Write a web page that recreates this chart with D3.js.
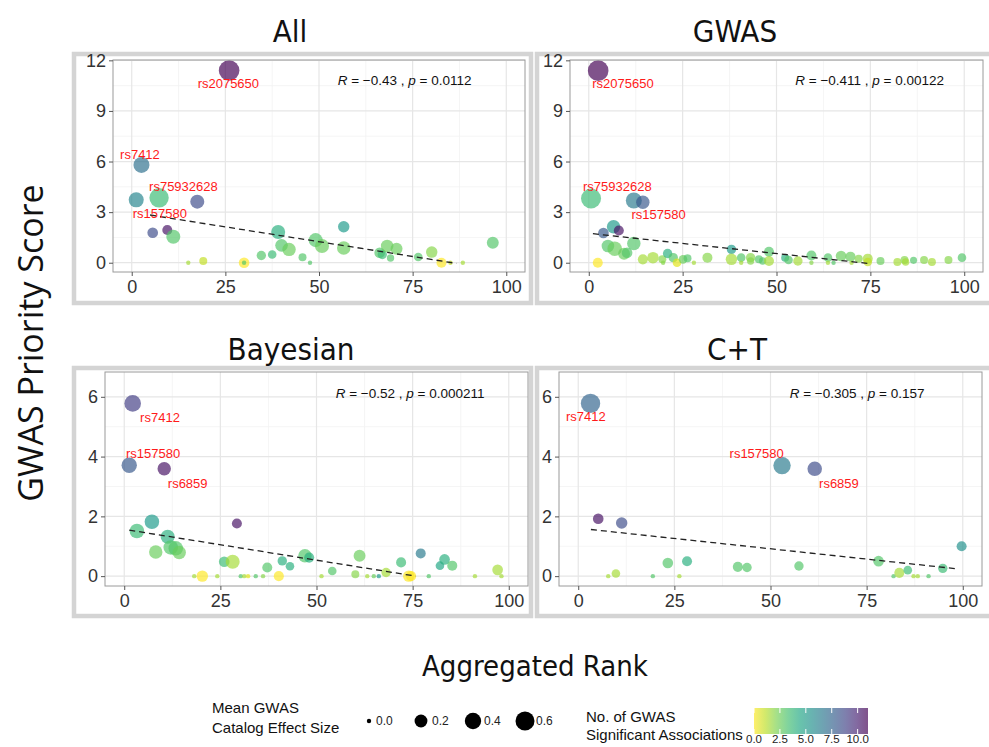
<!DOCTYPE html>
<html>
<head>
<meta charset="utf-8">
<script src="https://cdn.jsdelivr.net/npm/d3@7"></script>
<style>
  body { margin: 0; background: #fff; }
  svg { display: block; }
</style>
</head>
<body>
<div id="chart"></div>
<script>
// tick labels
let xTicks = [0, 25, 50, 75, 100]
let xMinor = [12.5, 37.5, 62.5, 87.5]
let topYTicks = [0, 3, 6, 9, 12]
let topYMinor = [1.5, 4.5, 7.5, 10.5]
let bottomYTicks = [0, 2, 4, 6]
let bottomYMinor = [1, 3, 5]

let panelTitles = ['All', 'GWAS', 'Bayesian', 'C+T']

// [aggregated rank, GWAS priority score, mean effect size, no. of associations]
let allPoints = [
  [26.0, 11.4, 0.74, 11], [2.6, 5.8, 0.38, 7], [1.2, 3.73, 0.32, 6], [7.3, 3.85, 0.63, 3.5],
  [17.5, 3.62, 0.26, 8.5], [5.6, 1.78, 0.11, 8.5], [9.5, 1.94, 0.09, 10.5], [11.1, 1.54, 0.26, 3],
  [15.1, 0, 0, 1.5], [19.1, 0.1, 0.036, 1], [30, 0, 0.11, 0], [30, 0, 0, 3],
  [34.6, 0.43, 0.07, 3], [37.5, 0.49, 0.05, 3.5], [39.1, 1.82, 0.26, 4], [40, 1.03, 0.19, 3],
  [42, 0.79, 0.23, 2.5], [45.6, 0.32, 0.036, 3], [47.6, 0, 0, 3], [49.1, 1.34, 0.26, 3],
  [50.8, 0.99, 0.26, 2.5], [56.6, 2.13, 0.14, 5], [56.6, 0.87, 0.23, 2.5], [66.2, 0.59, 0.11, 3],
  [66.9, 0.49, 0.07, 3.5], [68.2, 0.99, 0.19, 2.5], [70.7, 0.83, 0.16, 2.5], [69.1, 0.28, 0.025, 3],
  [76.5, 0.34, 0.05, 3], [80.1, 0.63, 0.14, 2], [82.7, 0, 0.09, 0], [85.1, 0, 0, 1],
  [88.4, 0, 0, 1.5], [96.4, 1.18, 0.16, 3]
]
let gwasPoints = [
  [2.5, 11.39, 0.74, 11], [0.6, 3.81, 0.685, 3.5], [12.0, 3.69, 0.38, 6.5], [14.4, 3.59, 0.23, 8],
  [3.9, 1.76, 0.11, 8], [6.6, 2.13, 0.23, 5], [8.0, 1.91, 0.09, 10.5], [5.1, 0.99, 0.19, 3],
  [6.9, 0.83, 0.29, 2.5], [9.4, 0.53, 0.16, 2.5], [10.2, 0.59, 0.11, 3], [12.0, 1.14, 0.23, 3],
  [2.4, 0, 0.09, 0], [14.4, 0.2, 0.09, 1.5], [17.1, 0.3, 0.14, 1.5], [19.6, 0.2, 0.036, 2],
  [19.8, 0, 0, 2], [21.0, 0.55, 0.07, 4], [22.5, 0.3, 0.07, 3], [23.5, 0, 0.05, 0.5],
  [25.1, 0.2, 0.05, 2.5], [26.3, 0.26, 0.036, 3], [28.0, 0, 0, 1.5], [31.6, 0.3, 0.09, 2],
  [38.0, 0.79, 0.07, 5], [38.0, 0.2, 0.14, 1.5], [40.6, 0.3, 0.05, 3], [40.6, 0, 0, 1.5],
  [43.1, 0.3, 0.07, 2], [43.1, 0.1, 0.025, 2], [45.3, 0.2, 0.036, 3], [46.3, 0.1, 0.025, 3],
  [48.0, 0.65, 0.09, 3], [48.0, 0.1, 0.09, 1.5], [52.3, 0.3, 0.036, 4], [53.2, 0.16, 0.05, 3],
  [55.7, 0.1, 0.07, 1.5], [59.3, 0.43, 0.09, 3], [59.3, 0, 0, 2], [63.7, 0.3, 0.05, 3],
  [63.7, 0, 0, 1.5], [65.2, 0, 0, 3], [67.2, 0.4, 0.11, 2.5], [69.7, 0.36, 0.09, 2.5],
  [70.0, 0, 0, 1.5], [71.9, 0.24, 0.036, 2], [74.3, 0.24, 0.09, 1.5], [74.3, 0.04, 0.05, 1],
  [77.7, 0.1, 0.036, 2.5], [82.2, 0.04, 0.036, 1.5], [84.1, 0.16, 0.036, 2], [84.4, 0.04, 0.025, 1.5],
  [86.5, 0.14, 0.02, 3], [89.3, 0.16, 0.036, 2], [91.4, 0.04, 0.036, 1.5], [95.8, 0.16, 0.036, 2],
  [99.4, 0.3, 0.05, 3]
]
let bayesPoints = [
  [2.2, 5.78, 0.42, 9], [1.3, 3.71, 0.34, 8], [10.4, 3.59, 0.23, 10.5], [7.2, 1.82, 0.29, 5],
  [3.3, 1.51, 0.29, 3.5], [29.3, 1.76, 0.09, 10.5], [11.3, 1.32, 0.26, 4], [8.2, 0.81, 0.23, 2.5],
  [12.1, 0.96, 0.29, 3], [13.4, 0.93, 0.29, 3], [14.3, 0.79, 0.23, 2.5], [20.3, 0, 0.14, 0],
  [18.2, 0, 0, 1.5], [24.2, 0, 0, 1.5], [26.0, 0.48, 0.11, 3.5], [28.2, 0.48, 0.26, 1.5],
  [30.3, 0, 0, 3], [31.2, 0, 0, 1.5], [32.2, 0, 0, 0.5], [34.2, 0, 0, 3],
  [36.1, 0, 0, 2], [37.2, 0.29, 0.09, 3], [40.2, 0, 0.09, 0], [41.1, 0.51, 0.07, 4],
  [43.1, 0.33, 0.05, 4], [47.0, 0.68, 0.23, 3], [48.1, 0.62, 0.09, 4], [51.3, 0, 0, 1.5],
  [54.1, 0.17, 0.05, 3], [60.1, 0.06, 0.036, 2], [61.2, 0.68, 0.16, 2.5], [63.2, 0, 0, 1.5],
  [64.9, 0, 0, 2.5], [66.2, 0, 0, 5], [68.1, 0.12, 0.07, 1.5], [72.0, 0.46, 0.09, 3.5],
  [74.0, 0, 0.14, 0], [74.6, 0, 0.09, 0], [77.1, 0.76, 0.09, 6.5], [79.2, 0, 0, 3],
  [82.1, 0.35, 0.05, 4.5], [83.3, 0.56, 0.11, 4], [85.3, 0.35, 0.09, 3], [91.2, 0, 0, 1.5],
  [97.1, 0.21, 0.11, 1.5], [98.1, 0, 0, 1.5]
]
let ctPoints = [
  [3.2, 5.78, 0.63, 7.5], [53.0, 3.7, 0.475, 6.5], [61.5, 3.59, 0.29, 8.5], [5.2, 1.92, 0.11, 10.5],
  [11.3, 1.78, 0.14, 8.5], [7.8, 0, 0, 1.5], [9.8, 0.09, 0.05, 1.5], [19.4, 0, 0, 3],
  [23.3, 0.44, 0.11, 3], [26.3, 0, 0, 1.5], [28.3, 0.5, 0.09, 4], [41.5, 0.31, 0.09, 3],
  [43.9, 0.29, 0.07, 3], [57.4, 0.34, 0.07, 3], [78.1, 0.5, 0.11, 3], [82.0, 0, 0, 3],
  [83.5, 0.11, 0.09, 1.5], [85.7, 0.2, 0.05, 3.5], [87.2, 0, 0, 1.5], [88.3, 0, 0, 1.5],
  [91.1, 0, 0, 3], [94.8, 0.26, 0.07, 3.5], [99.7, 1.0, 0.09, 5.5]
]

// SNP labels: [name, rank, score]
let allLabels = [['rs2075650', 25.8, 10.63], ['rs7412', 2.2, 6.44], ['rs75932628', 13.8, 4.55], ['rs157580', 7.5, 2.95]]
let gwasLabels = [['rs2075650', 9.1, 10.65], ['rs75932628', 7.6, 4.55], ['rs157580', 18.6, 2.89]]
let bayesLabels = [['rs7412', 9.3, 5.32], ['rs157580', 7.5, 4.12], ['rs6859', 16.5, 3.12]]
let ctLabels = [['rs7412', 2.0, 5.34], ['rs157580', 46.4, 4.12], ['rs6859', 67.8, 3.12]]

// linear fit end points
let allFit = [[4.9, 2.83], [86.7, -0.04]]
let gwasFit = [[1.1, 1.72], [74.3, -0.04]]
let bayesFit = [[1.3, 1.54], [75.8, 0.0]]
let ctFit = [[3.3, 1.56], [98.9, 0.24]]

let corR = ['\u22120.43', '\u22120.411', '\u22120.52', '\u22120.305']
let corP = ['0.0112', '0.00122', '0.000211', '0.157']

let effectLegend = [0, 0.2, 0.4, 0.6]
let countTicks = [0, 2.5, 5, 7.5, 10]

let narrow = '"Liberation Sans Narrow", "DejaVu Sans Condensed", "Roboto Condensed", sans-serif'
let sans = '"Liberation Sans", Arial, sans-serif'

let width = 989
let height = 747

let svg = d3
  .select('#chart')
  .append('svg')
  .attr('width', width)
  .attr('height', height)

let color = d3.scaleSequential(t => d3.interpolateViridis(1 - t)).domain([0, 11])
let radius = d3.scaleSqrt().domain([0, 0.6]).range([2.2, 9.5])

let panels = [
  { points: allPoints, labels: allLabels, fit: allFit, yDomain: [-0.55, 12.02], yTicks: topYTicks, yMinor: topYMinor,
    plot: [113, 525, 60, 272], frame: [72, 52, 533, 305], titleX: 290, titleY: 42, statY: 10.8 },
  { points: gwasPoints, labels: gwasLabels, fit: gwasFit, yDomain: [-0.55, 12.02], yTicks: topYTicks, yMinor: topYMinor,
    plot: [570, 983, 60, 272], frame: [535, 52, 994, 305], titleX: 735, titleY: 42, statY: 10.8 },
  { points: bayesPoints, labels: bayesLabels, fit: bayesFit, yDomain: [-0.33, 6.83], yTicks: bottomYTicks, yMinor: bottomYMinor,
    plot: [105, 528, 372, 586], frame: [72, 366, 533, 618], titleX: 291, titleY: 360, statY: 6.12 },
  { points: ctPoints, labels: ctLabels, fit: ctFit, yDomain: [-0.33, 6.83], yTicks: bottomYTicks, yMinor: bottomYMinor,
    plot: [559, 982, 372, 586], frame: [535, 366, 994, 618], titleX: 737, titleY: 360, statY: 6.12 }
]

panels.forEach((p, i) => {
  let [left, right, top, bottom] = p.plot
  let x = d3.scaleLinear().domain([-5, 105]).range([left, right])
  let y = d3.scaleLinear().domain(p.yDomain).range([bottom, top])

  // grey frame around each facet picture
  let [fx0, fy0, fx1, fy1] = p.frame
  svg.append('rect')
    .attr('x', fx0 + 2).attr('y', fy0 + 2)
    .attr('width', fx1 - fx0 - 4).attr('height', fy1 - fy0 - 4)
    .attr('fill', 'none').attr('stroke', '#d4d4d4').attr('stroke-width', 4.5)

  svg.append('text')
    .attr('x', p.titleX).attr('y', p.titleY)
    .attr('text-anchor', 'middle')
    .style('font-family', narrow).style('font-stretch', 'condensed')
    .style('font-size', '31px').attr('fill', '#111')
    .text(panelTitles[i])

  let g = svg.append('g')

  // grid
  g.selectAll('.xminor').data(xMinor).enter().append('line')
    .attr('x1', d => x(d)).attr('x2', d => x(d)).attr('y1', top).attr('y2', bottom)
    .attr('stroke', '#f2f2f2').attr('stroke-width', 0.8)
  g.selectAll('.yminor').data(p.yMinor).enter().append('line')
    .attr('y1', d => y(d)).attr('y2', d => y(d)).attr('x1', left).attr('x2', right)
    .attr('stroke', '#f2f2f2').attr('stroke-width', 0.8)
  g.selectAll('.xmajor').data(xTicks).enter().append('line')
    .attr('x1', d => x(d)).attr('x2', d => x(d)).attr('y1', top).attr('y2', bottom)
    .attr('stroke', '#e6e6e6').attr('stroke-width', 1.2)
  g.selectAll('.ymajor').data(p.yTicks).enter().append('line')
    .attr('y1', d => y(d)).attr('y2', d => y(d)).attr('x1', left).attr('x2', right)
    .attr('stroke', '#e6e6e6').attr('stroke-width', 1.2)

  let clipId = 'clip' + i
  svg.append('clipPath').attr('id', clipId)
    .append('rect').attr('x', left).attr('y', top).attr('width', right - left).attr('height', bottom - top)

  let marks = g.append('g').attr('clip-path', 'url(#' + clipId + ')')

  marks.selectAll('circle')
    .data(p.points)
    .enter()
    .append('circle')
    .attr('cx', d => x(d[0]))
    .attr('cy', d => y(d[1]))
    .attr('r', d => radius(d[2]))
    .attr('fill', d => color(d[3]))
    .attr('fill-opacity', 0.68)

  marks.append('path')
    .datum(p.fit)
    .attr('d', d3.line().x(d => x(d[0])).y(d => y(d[1])))
    .attr('stroke', '#222').attr('stroke-width', 1.3)
    .attr('stroke-dasharray', '6,4').attr('fill', 'none')

  g.selectAll('.snp')
    .data(p.labels)
    .enter()
    .append('text')
    .attr('x', d => x(d[1]))
    .attr('y', d => y(d[2]))
    .attr('dy', '0.36em')
    .attr('text-anchor', 'middle')
    .style('font-family', sans).style('font-size', '13px')
    .attr('fill', '#ff1a1a')
    .text(d => d[0])

  let stat = g.append('text')
    .attr('x', x(55)).attr('y', y(p.statY)).attr('dy', '0.36em')
    .style('font-family', sans).style('font-size', '13.5px').attr('fill', '#111')
  stat.append('tspan').attr('font-style', 'italic').text('R')
  stat.append('tspan').text(' = ' + corR[i] + ' , ')
  stat.append('tspan').attr('font-style', 'italic').text('p')
  stat.append('tspan').text(' = ' + corP[i])

  // panel border
  g.append('rect')
    .attr('x', left).attr('y', top).attr('width', right - left).attr('height', bottom - top)
    .attr('fill', 'none').attr('stroke', '#9a9a9a').attr('stroke-width', 1)

  let xAxis = g.append('g')
    .attr('transform', 'translate(0,' + bottom + ')')
    .call(d3.axisBottom(x).tickValues(xTicks).tickSize(4).tickPadding(4))
  let yAxis = g.append('g')
    .attr('transform', 'translate(' + left + ',0)')
    .call(d3.axisLeft(y).tickValues(p.yTicks).tickSize(4).tickPadding(3))
  ;[xAxis, yAxis].forEach(a => {
    a.select('.domain').remove()
    a.selectAll('line').attr('stroke', '#555')
    a.selectAll('text').style('font-family', sans).style('font-size', '18px').attr('fill', '#333')
  })
})

// axis titles
svg.append('text')
  .attr('transform', 'translate(43,343) rotate(-90)')
  .attr('text-anchor', 'middle')
  .style('font-family', '"Open Sans", sans-serif').style('font-size', '34px').attr('fill', '#111')
  .text('GWAS Priority Score')

svg.append('text')
  .attr('x', 535).attr('y', 676)
  .attr('text-anchor', 'middle')
  .style('font-family', narrow).style('font-stretch', 'condensed')
  .style('font-size', '29px').attr('fill', '#111')
  .text('Aggregated Rank')

// size legend
let legend = svg.append('g')
legend.append('text')
  .attr('x', 212).attr('y', 713)
  .style('font-family', sans).style('font-size', '15px').attr('fill', '#111')
  .call(t => {
    t.append('tspan').attr('x', 212).text('Mean GWAS')
    t.append('tspan').attr('x', 212).attr('dy', 20).text('Catalog Effect Size')
  })

let keyX = d3.scalePoint().domain(effectLegend).range([369, 525])
legend.selectAll('.key')
  .data(effectLegend)
  .enter()
  .append('circle')
  .attr('cx', d => keyX(d))
  .attr('cy', 721)
  .attr('r', d => radius(d))
  .attr('fill', '#000')
legend.selectAll('.keylab')
  .data(effectLegend)
  .enter()
  .append('text')
  .attr('x', d => keyX(d) + (d === 0 ? 7 : 11))
  .attr('y', 725)
  .style('font-family', sans).style('font-size', '12px').attr('fill', '#222')
  .text(d => d3.format('.1f')(d))

// colour legend
legend.append('text')
  .attr('x', 586).attr('y', 722)
  .style('font-family', sans).style('font-size', '15px').attr('fill', '#111')
  .call(t => {
    t.append('tspan').attr('x', 586).text('No. of GWAS')
    t.append('tspan').attr('x', 586).attr('dy', 18).text('Significant Associations')
  })

let barX = d3.scaleLinear().domain([0, 11]).range([754, 868])
let grad = svg.append('defs').append('linearGradient').attr('id', 'countGrad')
d3.range(0, 1.0001, 0.1).forEach(t => {
  grad.append('stop').attr('offset', t).attr('stop-color', color(t * 11))
})
legend.append('rect')
  .attr('x', barX(0)).attr('y', 708)
  .attr('width', barX(11) - barX(0)).attr('height', 26)
  .attr('fill', 'url(#countGrad)').attr('fill-opacity', 0.68)
legend.selectAll('.cbtick')
  .data(countTicks)
  .enter()
  .append('path')
  .attr('d', d => 'M' + barX(d) + ',708v5M' + barX(d) + ',734v-5')
  .attr('stroke', '#fff').attr('stroke-width', 1)
legend.selectAll('.cblab')
  .data(countTicks)
  .enter()
  .append('text')
  .attr('x', d => barX(d))
  .attr('y', 743)
  .attr('text-anchor', 'middle')
  .style('font-family', sans).style('font-size', '11.5px').attr('fill', '#222')
  .text(d => d3.format('.1f')(d))
</script>
</body>
</html>
